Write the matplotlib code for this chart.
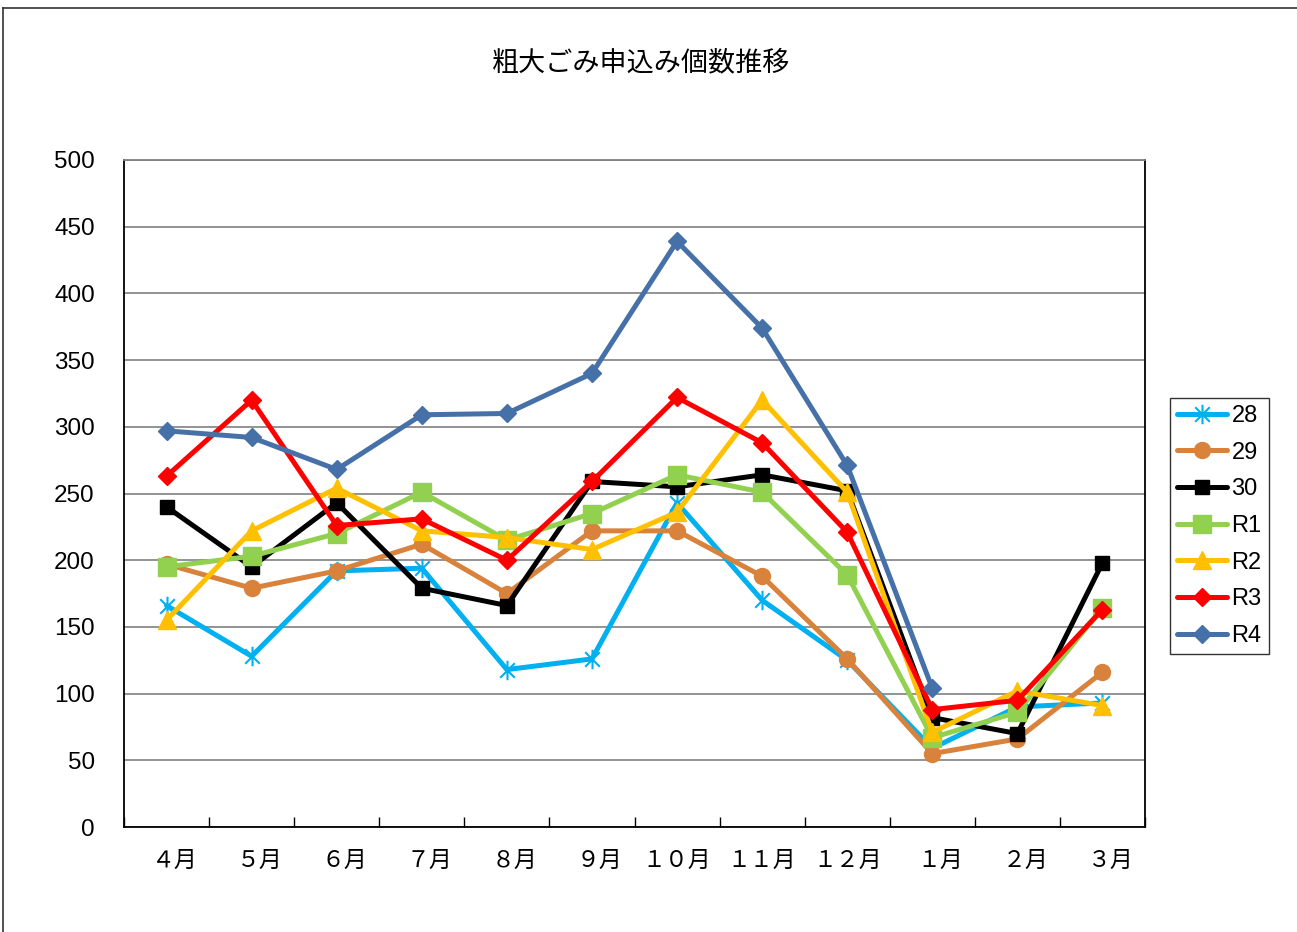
import numpy as np
import matplotlib
matplotlib.use("Agg")
import matplotlib.pyplot as plt
from matplotlib.path import Path
from matplotlib.lines import Line2D
import matplotlib.transforms as mtransforms

plt.rcParams['font.family'] = ['Noto Sans CJK JP', 'DejaVu Sans']

months = ["４月", "５月", "６月", "７月", "８月", "９月", "１０月", "１１月", "１２月", "１月", "２月", "３月"]
series_names = ["28", "29", "30", "R1", "R2", "R3", "R4"]

s28 = [166, 128, 192, 194, 118, 126, 243, 170, 125, 59, 90, 93]
s29 = [197, 179, 192, 212, 175, 222, 222, 188, 126, 55, 66, 116]
s30 = [240, 195, 243, 179, 166, 259, 255, 264, 252, 82, 70, 198]
sR1 = [195, 203, 220, 251, 215, 235, 264, 251, 189, 67, 86, 164]
sR2 = [155, 222, 254, 222, 217, 208, 236, 320, 251, 71, 102, 91]
sR3 = [263, 320, 226, 231, 200, 259, 322, 288, 221, 88, 95, 163]
sR4 = [297, 292, 268, 309, 310, 340, 439, 374, 271, 104, np.nan, np.nan]

y_ticks = [0, 50, 100, 150, 200, 250, 300, 350, 400, 450, 500]
title = "粗大ごみ申込み個数推移"

# asterisk marker: vertical line + X
ast = Path([(0, -1), (0, 1), (-0.75, -0.75), (0.75, 0.75), (-0.75, 0.75), (0.75, -0.75)],
           [Path.MOVETO, Path.LINETO, Path.MOVETO, Path.LINETO, Path.MOVETO, Path.LINETO])

styles = [
    dict(color="#00B0F0", marker=ast, ms=14, mfc="none", mec="#00B0F0", mew=1.5),
    dict(color="#D8823C", marker="o", ms=11.5),
    dict(color="#000000", marker="s", ms=9.5),
    dict(color="#92D050", marker="s", ms=12.5),
    dict(color="#FFC000", marker="^", ms=13),
    dict(color="#FF0000", marker="D", ms=9.5),
    dict(color="#4670A8", marker="D", ms=9.5),
]
data = [s28, s29, s30, sR1, sR2, sR3, sR4]

fig = plt.figure(figsize=(12.97, 9.32), dpi=100)
ax = fig.add_axes([124/1297, 1-827/932, (1145-124)/1297, (827-160)/932])

x = np.arange(len(months))
for name, vals, st in zip(series_names, data, styles):
    ax.plot(x, vals, lw=3.6, label=name, solid_joinstyle="round", solid_capstyle="round", **st)

ax.set_xlim(-0.5, len(months) - 0.5)
ax.set_ylim(0, 500)
ax.set_yticks(y_ticks)
ax.set_xticks(x)
ax.set_xticklabels(months)
ax.set_xticks(np.arange(len(months) + 1) - 0.5, minor=True)
ax.tick_params(axis='x', which='major', length=0, pad=16, labelsize=16.5)
ax.tick_params(axis='x', which='minor', direction='in', length=7, width=1)
ax.tick_params(axis='y', which='major', length=0, pad=21, labelsize=17.5)
for lab in ax.get_yticklabels():
    lab.set_fontfamily(['Liberation Sans'])
# single-digit month labels sit slightly right of the category centre, as in the reference
for lab in ax.get_xticklabels():
    if len(lab.get_text()) == 2:
        lab.set_transform(lab.get_transform() + mtransforms.ScaledTranslation(8/100, 0, fig.dpi_scale_trans))

ax.yaxis.grid(True, color="#808080", lw=1.2)
ax.set_axisbelow(True)
for sp in ax.spines.values():
    sp.set_color("black")
    sp.set_linewidth(1.3)
ax.spines['top'].set_color("#808080")

fig.text(641/1297, 1-63/932, title, ha='center', va='center', fontsize=19.5)

leg = ax.legend(loc='center left', bbox_to_anchor=(1170/1297, 1-526/932), bbox_transform=fig.transFigure,
                frameon=True, fancybox=False, edgecolor='black', handlelength=2.1,
                labelspacing=0.62, borderpad=0.3, handletextpad=0.2, borderaxespad=0,
                prop={'family': ['Liberation Sans'], 'size': 17})
leg.get_frame().set_linewidth(1.0)

fig.add_artist(Line2D([3/1297, 1.0], [1-8/932, 1-8/932], transform=fig.transFigure, color='#333333', lw=1.2))
fig.add_artist(Line2D([3/1297, 3/1297], [0, 1-8/932], transform=fig.transFigure, color='#333333', lw=1.2))

fig.savefig("out.png", dpi=100)
